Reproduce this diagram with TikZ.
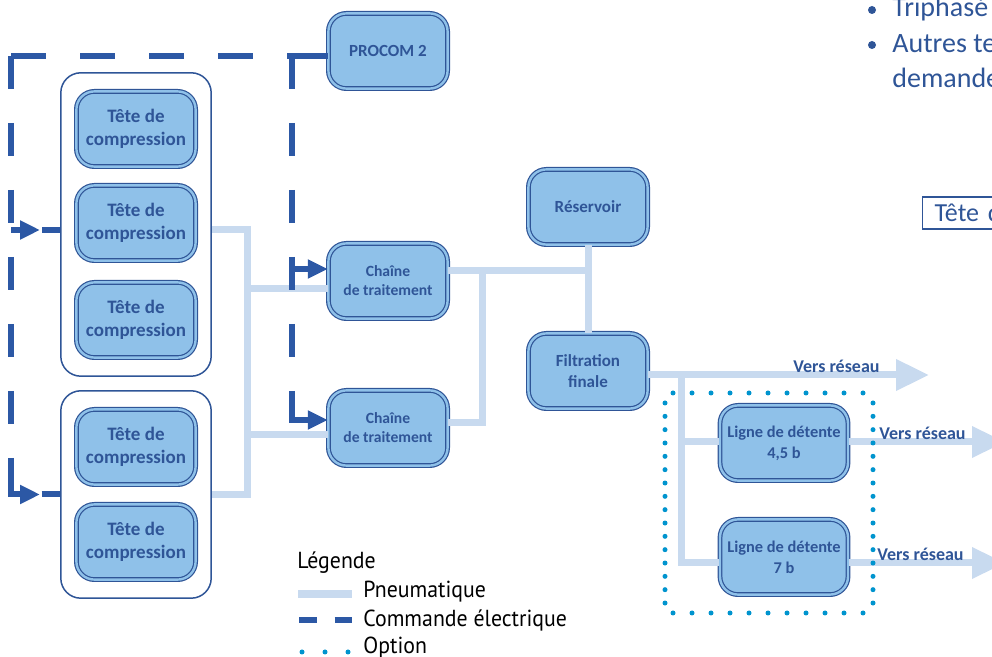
\documentclass[tikz,border=0pt]{standalone}
\usepackage{fontspec}
\setmainfont{Carlito}
\newfontfamily\legendfont[FakeStretch=0.94]{PT Sans}
\usetikzlibrary{arrows.meta,fit,backgrounds}
\definecolor{unitfill}{RGB}{143,193,233}
\definecolor{unitline}{RGB}{47,85,151}
\definecolor{pneublue}{RGB}{200,218,239}
\definecolor{elecblue}{RGB}{44,88,165}
\definecolor{optblue}{RGB}{0,148,206}
\tikzset{
        % Process units (double border)
        node_unit/.style={align=center, inner sep=0pt, rounded corners=9pt,
            draw=unitline, line width=0.6pt, double=unitfill, double distance=1.2pt,
            fill=unitfill, text=unitline, minimum width=59.6pt, minimum height=37.6pt,
            font=\bfseries\fontsize{8.5}{10.5}\selectfont},
        % Compression heads
        node_head/.style={node_unit, font=\bfseries\fontsize{9.5}{11.5}\selectfont},
        % Groups of heads
        node_group/.style={draw=unitline, line width=0.75pt, rounded corners=10pt, fill=white, inner xsep=7.5pt, inner ysep=9pt},
        % Labels on the outputs
        node_out/.style={text=unitline, inner sep=0pt, font=\bfseries\fontsize{9}{11}\selectfont},
        % Legend text
        node_legend/.style={inner sep=0pt, anchor=west, font=\legendfont\fontsize{11.6}{14}\selectfont},
        % Text on the right
        node_note/.style={inner sep=0pt, anchor=base west, text=unitline, font=\fontsize{14}{17}\selectfont},
        % Pneumatic lines
        line_pneu/.style={draw=pneublue, line width=3.5pt},
        tip_pneu/.style={-{Triangle[length=16.5pt,width=15pt]}},
        % Electric lines
        line_elec/.style={draw=elecblue, line width=3pt, dash pattern=on 16.75pt off 16.75pt},
        line_elec_plain/.style={draw=elecblue, line width=3pt},
        line_elec_tip/.style={line_elec_plain, -{Triangle[length=10pt,width=9pt]}},
        % Option (dotted)
        line_opt/.style={draw=optblue, line width=2.5pt, line cap=round}
}

\begin{document}
\begin{tikzpicture}[x=0.5pt, y=-0.5pt]
\useasboundingbox (0,0) rectangle (992,657);
\clip (0,0) rectangle (992,657);

% units
\node[node_unit] (procom) at (388,51) {PROCOM 2};
\node[node_head] (t1) at (136,129) {Tête de\\compression};
\node[node_head] (t2) at (136,223) {Tête de\\compression};
\node[node_head] (t3) at (136,320) {Tête de\\compression};
\node[node_head] (t4) at (136,447) {Tête de\\compression};
\node[node_head] (t5) at (136,542) {Tête de\\compression};
\node[node_unit, font=\bfseries\fontsize{7.8}{9.5}\selectfont] (ch1) at (388,281) {Chaîne\\de traitement};
\node[node_unit, font=\bfseries\fontsize{7.8}{9.5}\selectfont] (ch2) at (388,428) {Chaîne\\de traitement};
\node[node_unit] (res) at (588,207) {Réservoir};
\node[node_unit] (fil) at (588,371) {Filtration\\finale};
\node[node_unit, minimum width=64pt, font=\bfseries\fontsize{8.2}{10.5}\selectfont] (l45) at (784,443) {Ligne de détente\\4,5 b};
\node[node_unit, minimum width=64pt, font=\bfseries\fontsize{8.2}{10.5}\selectfont] (l7) at (784,557) {Ligne de détente\\7 b};

% groups of heads
\begin{scope}[on background layer]
  \node[node_group, fit=(t1)(t3)] (g1) {};
  \node[node_group, fit=(t4)(t5)] (g2) {};
\end{scope}

% pneumatic
\coordinate (j_a) at (247,230);
\coordinate (j_b) at (247,289);
\coordinate (j_c) at (247,435);
\draw[line_pneu] (j_a -| g1.east) -- (j_a) -- (j_a |- g2.east) -- (g2.east);
\draw[line_pneu] (j_b) -- (j_b -| ch1.west);
\draw[line_pneu] (j_c) -- (j_c -| ch2.west);
\coordinate (j_d) at (588,271);
\coordinate (j_e) at (482,271);
\coordinate (j_f) at (482,423);
\draw[line_pneu] (j_d -| ch1.east) -- (j_d);
\draw[line_pneu] (res.south) -- (fil.north);
\draw[line_pneu] (j_e) -- (j_f) -- (j_f -| ch2.east);
\coordinate (j_g) at (681,375);
\coordinate (j_h) at (681,442);
\coordinate (j_i) at (681,563);
\coordinate (out_a) at (929,375);
\coordinate (out_b) at (1005,442);
\coordinate (out_c) at (1005,563);
\draw[line_pneu, tip_pneu] (out_a -| fil.east) -- (out_a);
\draw[line_pneu] (j_g) -- (j_i) -- (j_i -| l7.west);
\draw[line_pneu] (j_h) -- (j_h -| l45.west);
\draw[line_pneu, tip_pneu] (out_b -| l45.east) -- (out_b);
\draw[line_pneu, tip_pneu] (out_c -| l7.east) -- (out_c);
\node[node_out, anchor=east] (vr_a) at (880,366) {Vers réseau};
\node[node_out, anchor=west] (vr_b) at (879,433) {Vers réseau};
\node[node_out, anchor=west] (vr_c) at (877,554) {Vers réseau};

% electric
\coordinate (e_tr) at (292,56);
\coordinate (e_tl) at (11,56);
\coordinate (e_br) at (292,420);
\coordinate (e_ml) at (11,230);
\coordinate (e_mr) at (292,269);
\coordinate (e_bl) at (e_tl |- g2.west);
\draw[line_elec_plain] (e_tr -| procom.west) -- (e_tr);
\draw[line_elec, dash pattern=on 17.25pt off 17.25pt] (e_tl) -- (e_tr);
\draw[line_elec] (e_tl) -- (e_bl) -- (g2.west);
\draw[line_elec] (e_tr) -- (e_br);
\draw[line_elec_tip] ([yshift=4pt]e_br) -- (e_br) -- (e_br -| ch2.west);
\draw[line_elec_tip] (e_mr) -- (e_mr -| ch1.west);
\draw[line_elec_tip] ([yshift=4pt]e_bl) -- (e_bl) -- ([xshift=14.5pt]e_bl);
\draw[line_elec_tip] (e_ml) -- ([xshift=14.5pt]e_ml);
\draw[line_elec_plain] ([xshift=15.5pt]e_ml) -- (e_ml -| g1.west);

% option
\draw[line_opt, dash pattern=on 0pt off 9.5pt] (673,393) -- (864,393);
\draw[line_opt, dash pattern=on 0pt off 9.5pt] (673,613) -- (864,613);
\draw[line_opt, dash pattern=on 0pt off 6.667pt] (665,403) -- (665,604);
\draw[line_opt, dash pattern=on 0pt off 6.667pt] (873,403) -- (873,604);

% legend
\node[node_legend] (leg_title) at (297,563) {Légende};
\node[node_legend] (leg_pneu) at (363,592) {Pneumatique};
\node[node_legend] (leg_elec) at (363,620) {Commande électrique};
\node[node_legend] (leg_opt) at (363,648) {Option};
\draw[line_pneu, line width=4pt] ([xshift=-32.5pt,yshift=-1pt]leg_pneu.west) -- ([xshift=-5.5pt,yshift=-1pt]leg_pneu.west);
\draw[line_elec, dash pattern=on 8.75pt off 9pt] ([xshift=-32pt]leg_elec.west) -- ([xshift=-5.5pt]leg_elec.west);
\draw[line_opt, dash pattern=on 0pt off 11.5pt] ([xshift=-30.5pt,yshift=-2pt]leg_opt.west) -- ([xshift=-7.5pt,yshift=-2pt]leg_opt.west);

% notes on the right
\fill[unitline] (872,10) circle (2pt);
\fill[unitline] (872,45) circle (2pt);
\node[node_note] (note_a) at (892,17) {Triphasé};
\node[node_note] (note_b) at (892,53) {Autres te};
\node[node_note] (note_c) at (892,88) {demande};
\node[draw=unitline, line width=0.6pt, text=unitline, anchor=west, minimum height=16pt,
      text width=50pt, inner xsep=6pt, align=left, font=\fontsize{13}{15}\selectfont] (tete_box) at (922,213) {Tête d};
\end{tikzpicture}
\end{document}
